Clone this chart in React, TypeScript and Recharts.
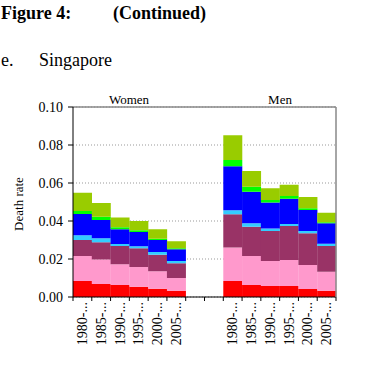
import React from 'react';
import { BarChart, Bar, XAxis, YAxis, CartesianGrid, ReferenceLine } from 'recharts';

// period labels per group, two blank slots separate Women from Men
const periods = ['1980-...', '1985-...', '1990-...', '1995-...', '2000-...', '2005-...'];
const gapSlots = ['', ''];

// death rate per cause, women 1980..2005
const womenRed = [0.0084, 0.0068, 0.0063, 0.0054, 0.0044, 0.0033];
const womenPink = [0.0132, 0.013, 0.0109, 0.0104, 0.0091, 0.0067];
const womenPurple = [0.0084, 0.009, 0.0096, 0.0098, 0.0088, 0.0077];
const womenCyan = [0.0025, 0.0021, 0.0011, 0.0011, 0.0014, 0.0012];
const womenBlue = [0.0112, 0.0096, 0.0077, 0.0075, 0.0063, 0.0062];
const womenGreen = [0.0016, 0.0018, 0.0011, 0.0009, 0.0007, 0.0006];
const womenLime = [0.0096, 0.0072, 0.0051, 0.0049, 0.0049, 0.0036];

// death rate per cause, men 1980..2005
const menRed = [0.0084, 0.0063, 0.0058, 0.0058, 0.0042, 0.0033];
const menPink = [0.0176, 0.0153, 0.0132, 0.0137, 0.0126, 0.01];
const menPurple = [0.0175, 0.0154, 0.0157, 0.0179, 0.0167, 0.0135];
const menCyan = [0.0021, 0.0018, 0.0013, 0.001, 0.0012, 0.0012];
const menBlue = [0.0232, 0.0166, 0.0138, 0.0133, 0.0111, 0.0108];
const menGreen = [0.0033, 0.0026, 0.0012, 0.0015, 0.0009, 0.0005];
const menLime = [0.013, 0.0083, 0.0062, 0.0059, 0.0059, 0.0051];

const yTicks = [0, 0.02, 0.04, 0.06, 0.08, 0.1];

const series = [
  { key: 'red', color: '#ff0000' },
  { key: 'pink', color: '#ff99cc' },
  { key: 'purple', color: '#993366' },
  { key: 'cyan', color: '#33ccff' },
  { key: 'blue', color: '#0000ff' },
  { key: 'green', color: '#00ff00' },
  { key: 'lime', color: '#99cc00' },
];

const rows = (
  labels: string[],
  cols: Record<string, number[]> | null
) =>
  labels.map((label, i) => {
    const row: Record<string, any> = { label };
    series.forEach((s) => {
      row[s.key] = cols ? cols[s.key][i] : 0;
    });
    return row;
  });

const data = [
  ...rows(periods, {
    red: womenRed, pink: womenPink, purple: womenPurple, cyan: womenCyan,
    blue: womenBlue, green: womenGreen, lime: womenLime,
  }),
  ...rows(gapSlots, null),
  ...rows(periods, {
    red: menRed, pink: menPink, purple: menPurple, cyan: menCyan,
    blue: menBlue, green: menGreen, lime: menLime,
  }),
].map((r, i) => ({ ...r, idx: i }));

const W = 366;
const H = 368;
const LEFT = 73;
const RIGHT_M = 29;
const TOP = 107;
const X_AXIS_H = 71;
const BAND = (W - LEFT - RIGHT_M - 1) / data.length;
const SERIF = '"Liberation Serif", "Times New Roman", serif';

const PeriodTick = (props: any) => {
  const { x, y, payload, index } = props;
  const axisY = y - 4;
  const left = x - BAND / 2;
  const label = data[payload.value]?.label ?? '';
  return (
    <g>
      <line x1={left} y1={axisY} x2={left} y2={axisY + 4} stroke="#000" />
      {index === data.length - 1 && (
        <line x1={left + BAND} y1={axisY} x2={left + BAND} y2={axisY + 4} stroke="#000" />
      )}
      {label && (
        <text
          x={x}
          y={axisY + 5}
          transform={`rotate(-90, ${x}, ${axisY + 5})`}
          textAnchor="end"
          dy="0.33em"
          fontSize={14}
          fontFamily={SERIF}
          fill="#000"
        >
          {label}
        </text>
      )}
    </g>
  );
};

export default function App() {
  return (
    <div style={{ position: 'absolute', left: 0, top: 0, width: W, height: H, background: '#fff' }}>
      <BarChart
        width={W}
        height={H}
        data={data}
        margin={{ top: TOP, right: RIGHT_M, left: 0, bottom: 0 }}
        barCategoryGap={0}
        barGap={0}
      >
        <CartesianGrid vertical={false} stroke="#999" strokeDasharray="1 2" />
        <XAxis
          dataKey="idx"
          type="category"
          height={X_AXIS_H}
          interval={0}
          tickLine={false}
          tickSize={4}
          tickMargin={0}
          axisLine={{ stroke: '#000' }}
          tick={<PeriodTick />}
        />
        <YAxis
          width={LEFT}
          domain={[0, 0.1]}
          ticks={yTicks}
          tickFormatter={(v: number) => v.toFixed(2)}
          tickSize={5}
          tickMargin={5}
          axisLine={{ stroke: '#000' }}
          tickLine={{ stroke: '#000' }}
          tick={{ fontSize: 14, fill: '#000', fontFamily: SERIF }}
          allowDataOverflow
        />
        <YAxis
          yAxisId="frame"
          orientation="right"
          width={1}
          domain={[0, 0.1]}
          tick={false}
          tickLine={false}
          axisLine={{ stroke: '#888', strokeWidth: 1.5 }}
        />
        <ReferenceLine y={0.1} stroke="#888" strokeWidth={1.5} />
        {series.map((s) => (
          <Bar key={s.key} dataKey={s.key} stackId="a" fill={s.color} isAnimationActive={false} />
        ))}
      </BarChart>
      <svg
        width={W}
        height={H}
        style={{ position: 'absolute', left: 0, top: 0, pointerEvents: 'none' }}
        fontFamily={SERIF}
      >
        <text x={1} y={19} fontSize={18} fontWeight="bold">Figure 4:</text>
        <text x={113} y={19} fontSize={18} fontWeight="bold">(Continued)</text>
        <text x={1} y={66} fontSize={18}>e.</text>
        <text x={39} y={66} fontSize={18}>Singapore</text>
        <text x={129} y={104} fontSize={13} textAnchor="middle">Women</text>
        <text x={280} y={104} fontSize={13} textAnchor="middle">Men</text>
        <text
          x={18}
          y={204}
          fontSize={13}
          textAnchor="middle"
          dy="0.35em"
          transform="rotate(-90, 18, 204)"
        >
          Death rate
        </text>
      </svg>
    </div>
  );
}
